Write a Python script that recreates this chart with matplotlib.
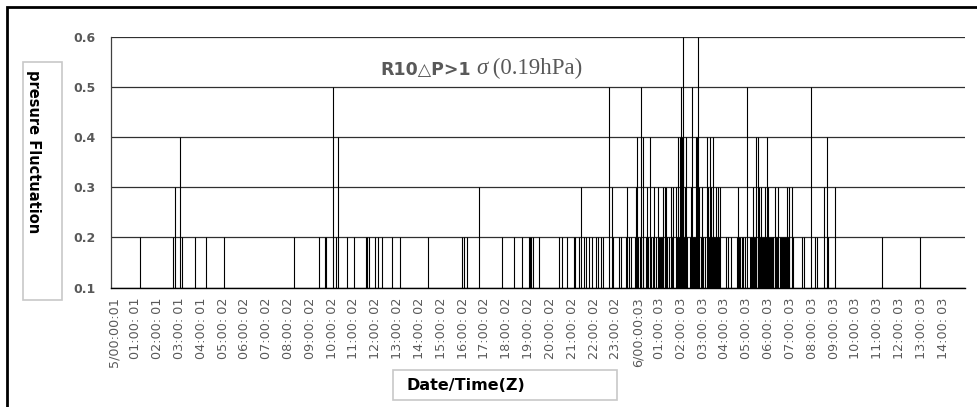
import matplotlib.pyplot as plt
from matplotlib.patches import Rectangle

# spike times (hours after 5/00:00:01), grouped by the peak value reached
hours_06 = [26.06, 26.75]
hours_05 = [10.05, 22.70, 24.15, 25.99, 26.49, 29.01, 31.96]
hours_04 = [3.02, 10.25, 23.98, 24.23, 24.55, 25.86, 25.92, 25.97, 26.02, 26.09,
            26.22, 26.67, 26.74, 27.16, 27.33, 27.44, 29.40, 29.50, 29.91, 32.66]
hours_03 = [2.81, 16.72, 21.41, 22.82, 23.50, 23.92, 24.45, 24.76, 24.95, 25.14,
            25.24, 25.30, 25.51, 25.63, 25.75, 26.17, 26.44, 26.83, 26.93, 27.21,
            27.36, 27.59, 27.70, 27.78, 28.62, 29.30, 29.55, 29.65, 29.84, 29.99,
            30.31, 30.45, 30.84, 30.95, 31.07, 32.55, 33.02]
hours_02 = [1.20, 2.73, 3.10, 3.72, 4.21, 5.05, 8.23, 9.41, 9.65, 9.73,
            10.16, 10.67, 10.98, 11.54, 11.62, 11.69, 11.97, 12.09, 12.27, 12.76,
            13.12, 14.41, 15.97, 16.03, 16.17, 17.79, 18.33, 18.71, 19.00, 19.06,
            19.12, 19.20, 19.47, 20.39, 20.52, 20.77, 21.08, 21.15, 21.31, 21.54,
            21.61, 21.77, 21.92, 22.07, 22.18, 22.32, 22.42, 22.88, 23.16, 23.23,
            23.46, 23.61, 23.69, 23.86, 24.03, 24.10, 24.26, 24.38, 24.49, 24.61,
            24.72, 24.86, 24.98, 25.02, 25.06, 25.10, 25.17, 25.28, 25.33, 25.45,
            25.58, 25.80, 25.84, 25.90, 25.95, 26.00, 26.05, 26.10, 26.13, 26.19,
            26.25, 26.40, 26.52, 26.56, 26.60, 26.64, 26.71, 26.78, 26.88, 27.00,
            27.08, 27.26, 27.30, 27.40, 27.48, 27.52, 27.56, 27.64, 27.73, 28.05,
            28.16, 28.27, 28.54, 28.58, 28.66, 28.70, 28.77, 28.82, 28.90, 29.15,
            29.19, 29.23, 29.27, 29.34, 29.38, 29.44, 29.53, 29.58, 29.62, 29.71,
            29.75, 29.80, 29.87, 29.95, 30.03, 30.07, 30.11, 30.15, 30.19, 30.22,
            30.35, 30.40, 30.50, 30.55, 30.60, 30.66, 30.72, 30.76, 30.81, 30.89,
            30.92, 31.14, 31.52, 31.60, 32.13, 32.21, 32.74, 35.19, 36.95]

spikes = [(0.2, hours_02), (0.3, hours_03), (0.4, hours_04),
          (0.5, hours_05), (0.6, hours_06)]

tick_labels = [
    '5/00:00:01', '01:00: 01', '02:00: 01', '03:00: 01', '04:00: 01',
    '05:00: 02', '06:00: 02', '07:00: 02', '08:00: 02', '09:00: 02',
    '10:00: 02', '11:00: 02', '12:00: 02', '13:00: 02', '14:00: 02',
    '15:00: 02', '16:00: 02', '17:00: 02', '18:00: 02', '19:00: 02',
    '20:00: 02', '21:00: 02', '22:00: 02', '23:00: 02',
    '6/00:00:03', '01:00: 03', '02:00: 03', '03:00: 03', '04:00: 03',
    '05:00: 03', '06:00: 03', '07:00: 03', '08:00: 03', '09:00: 03',
    '10:00: 03', '11:00: 03', '12:00: 03', '13:00: 03', '14:00: 03']
y_ticks = [0.1, 0.2, 0.3, 0.4, 0.5, 0.6]

W, H = 977, 407
fig = plt.figure(figsize=(W / 100, H / 100), dpi=100)
ax = fig.add_axes([111.3 / W, 1 - 287.7 / H, (965 - 111.3) / W, (287.7 - 36.7) / H])

for level, hrs in spikes:
    ax.vlines(hrs, 0.1, level, color='black', linewidth=0.8)

ax.set_xlim(-0.12, 39.0)
ax.set_ylim(0.1, 0.6)
ax.set_yticks(y_ticks)
ax.set_yticklabels(['%.1f' % v for v in y_ticks], fontweight='bold')
ax.set_xticks(range(len(tick_labels)))
ax.set_xticklabels(tick_labels, rotation=90)

ax.yaxis.grid(True, color='#303030', linewidth=0.9)
ax.set_axisbelow(True)
for side in ['top', 'right']:
    ax.spines[side].set_visible(False)
ax.spines['bottom'].set_color('black')
ax.spines['bottom'].set_linewidth(1.0)
ax.spines['left'].set_color('#404040')
ax.spines['left'].set_linewidth(0.9)

ax.tick_params(axis='x', length=0, pad=7, labelsize=9.2, labelcolor='#595959')
ax.tick_params(axis='y', length=0, pad=11.5, labelsize=9, labelcolor='#595959')

# title made of three pieces: sans bold, italic sigma, serif
t1 = fig.text(380 / W, 1 - 75 / H, 'R10△P>1', ha='left', va='baseline',
              fontsize=12.5, fontweight='bold', color='#595959')
t2 = ax.annotate('σ', xy=(1, 0), xycoords=t1, xytext=(4, 0),
                 textcoords='offset points', ha='left', va='bottom',
                 family='Liberation Serif', fontstyle='italic',
                 fontsize=16.5, color='#595959')
ax.annotate(' (0.19hPa)', xy=(1, 0), xycoords=t2, ha='left', va='bottom',
            family='Liberation Serif', fontsize=16.5, color='#595959')

# axis titles in their own boxes
fig.add_artist(Rectangle((23 / W, 1 - 300 / H), 39 / W, 238 / H,
                         transform=fig.transFigure, fill=False,
                         edgecolor='#c8c8c8', linewidth=1.2))
fig.text(33 / W, 1 - 151.5 / H, 'presure Fluctuation', rotation=-90,
         ha='center', va='center', fontsize=10.5, fontweight='bold')

fig.add_artist(Rectangle((393 / W, 1 - 400 / H), 224 / W, 30 / H,
                         transform=fig.transFigure, fill=False,
                         edgecolor='#c8c8c8', linewidth=1.2))
fig.text(407 / W, 1 - 386 / H, 'Date/Time(Z)', ha='left', va='center',
         fontsize=11.5, fontweight='bold')

# outer frame
fig.add_artist(Rectangle((7 / W, -0.1), 1.2, 1.1 - 7 / H,
                         transform=fig.transFigure, fill=False,
                         edgecolor='black', linewidth=2))

fig.savefig('out.png', dpi=100)
